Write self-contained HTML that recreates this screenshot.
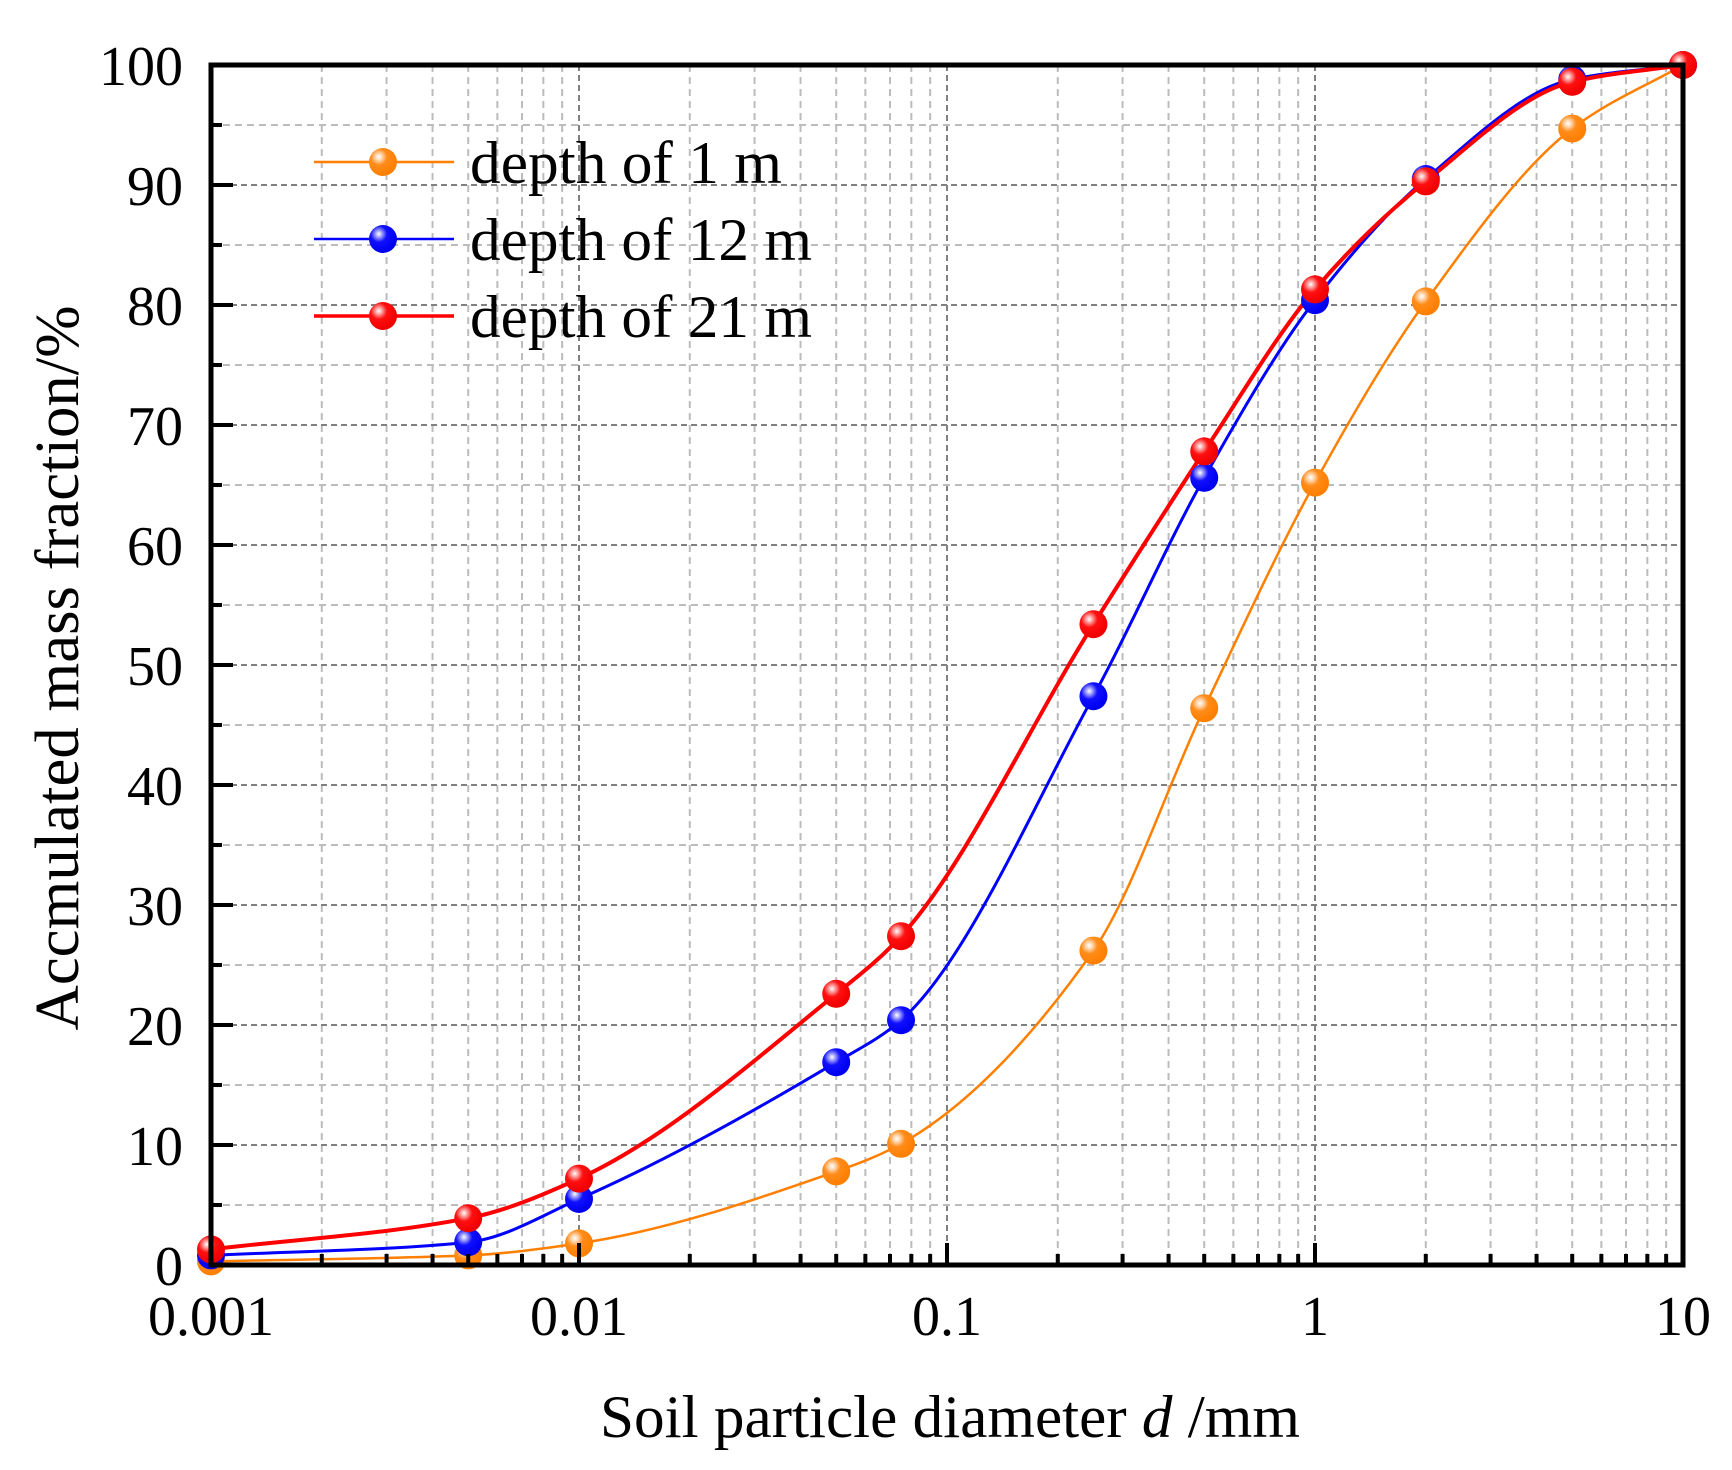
<!DOCTYPE html>
<html><head><meta charset="utf-8"><style>
html,body{margin:0;padding:0;background:#fff;}
svg{display:block;}
text{font-family:"Liberation Serif","Times New Roman",serif;fill:#000;}
</style></head><body>
<svg id="s" width="1732" height="1470" viewBox="0 0 1732 1470" xmlns="http://www.w3.org/2000/svg">
<defs>
<radialGradient id="gO" cx="0.35" cy="0.32" r="0.65"><stop offset="0" stop-color="#fff"/><stop offset="0.18" stop-color="#ffd7b0"/><stop offset="0.45" stop-color="#ff8c1a"/><stop offset="1" stop-color="#ff7f00"/></radialGradient>
<radialGradient id="gB" cx="0.35" cy="0.32" r="0.65"><stop offset="0" stop-color="#fff"/><stop offset="0.18" stop-color="#a0a0ff"/><stop offset="0.45" stop-color="#1010ff"/><stop offset="1" stop-color="#0000f0"/></radialGradient>
<radialGradient id="gR" cx="0.35" cy="0.32" r="0.65"><stop offset="0" stop-color="#fff"/><stop offset="0.18" stop-color="#ffa0a0"/><stop offset="0.45" stop-color="#ff1010"/><stop offset="1" stop-color="#f00000"/></radialGradient>
<clipPath id="cp"><rect x="150" y="40" width="1560" height="1250"/></clipPath>
</defs>
<g id="grid"></g>
<g id="curves" clip-path="url(#cp)"></g>
<rect x="211" y="65" width="1472" height="1200" fill="none" stroke="#000" stroke-width="5"/>
<g id="ticks"></g>
<g id="labels" font-size="56"></g>
<g id="legend">
<line x1="314" y1="162" x2="454" y2="162" stroke="#ff7f00" stroke-width="2.5"/>
<circle cx="383" cy="162" r="14" fill="url(#gO)"/>
<text x="470" y="183" font-size="60" textLength="312" lengthAdjust="spacingAndGlyphs">depth of 1 m</text>
<line x1="314" y1="239" x2="454" y2="239" stroke="#0000ff" stroke-width="2.5"/>
<circle cx="383" cy="239" r="14" fill="url(#gB)"/>
<text x="470" y="260" font-size="60" textLength="342" lengthAdjust="spacingAndGlyphs">depth of 12 m</text>
<line x1="314" y1="316" x2="454" y2="316" stroke="#ff0000" stroke-width="3.5"/>
<circle cx="383" cy="316" r="14" fill="url(#gR)"/>
<text x="470" y="337" font-size="60" textLength="342" lengthAdjust="spacingAndGlyphs">depth of 21 m</text>
</g>
<text x="950" y="1437" font-size="60" text-anchor="middle" textLength="700" lengthAdjust="spacingAndGlyphs">Soil particle diameter <tspan font-style="italic">d</tspan> /mm</text>
<text transform="translate(78,668) rotate(-90)" font-size="62" text-anchor="middle" textLength="725" lengthAdjust="spacingAndGlyphs">Accmulated mass fraction/%</text>
</svg>
<script>
var NS="http://www.w3.org/2000/svg";
function X(v){return 211+368*(Math.log10(v)+3);}
function Y(p){return 1265-12*p;}
function el(par,tag,a,txt){var e=document.createElementNS(NS,tag);for(var k in a)e.setAttribute(k,a[k]);if(txt!==undefined)e.textContent=txt;document.getElementById(par).appendChild(e);return e;}
for(var d=-3;d<1;d++){for(var m=1;m<10;m++){var v=m*Math.pow(10,d);var x=X(v);
 if(m==1){if(d>-3)el("grid","line",{x1:x,y1:65,x2:x,y2:1265,stroke:"#808080","stroke-width":2,"stroke-dasharray":"6 4"});}
 else el("grid","line",{x1:x,y1:65,x2:x,y2:1265,stroke:"#bcbcbc","stroke-width":2,"stroke-dasharray":"7 5"});
 el("ticks","line",{x1:x,y1:1265,x2:x,y2:m==1?1243:1254,stroke:"#000","stroke-width":4});
}}
for(var p=5;p<100;p+=5){var y=Y(p);
 if(p%10==0)el("grid","line",{x1:211,y1:y,x2:1683,y2:y,stroke:"#808080","stroke-width":2,"stroke-dasharray":"6 4"});
 else el("grid","line",{x1:211,y1:y,x2:1683,y2:y,stroke:"#bcbcbc","stroke-width":2,"stroke-dasharray":"7 5"});
 el("ticks","line",{x1:211,y1:y,x2:p%10==0?233:222,y2:y,stroke:"#000","stroke-width":4});
}
for(var p=0;p<=100;p+=10)el("labels","text",{x:183,y:Y(p)+20,"text-anchor":"end"},String(p));
var xl=[["0.001",0.001],["0.01",0.01],["0.1",0.1],["1",1],["10",10]];
xl.forEach(function(a){el("labels","text",{x:X(a[1]),y:1335,"text-anchor":"middle"},a[0]);});
var xs=[0.001,0.005,0.01,0.05,0.075,0.25,0.5,1,2,5,10];
var S=[
 {c:"#ff7f00",g:"gO",w:2.5,d:[0.3,0.8,1.8,7.8,10.1,26.2,46.4,65.2,80.3,94.7,100]},
 {c:"#0000ff",g:"gB",w:3,d:[0.8,1.9,5.5,16.9,20.4,47.4,65.6,80.4,90.5,98.8,100]},
 {c:"#ff0000",g:"gR",w:4,d:[1.3,3.9,7.2,22.6,27.4,53.4,67.8,81.3,90.3,98.6,100]}];
function mono(xv,yv){
 var n=xv.length,dl=[],m=[];
 for(var i=0;i<n-1;i++)dl.push((yv[i+1]-yv[i])/(xv[i+1]-xv[i]));
 m[0]=dl[0];m[n-1]=dl[n-2];
 for(var i=1;i<n-1;i++){
  if(dl[i-1]*dl[i]<=0)m[i]=0;
  else{var h0=xv[i]-xv[i-1],h1=xv[i+1]-xv[i];var w1=2*h1+h0,w2=h1+2*h0;m[i]=(w1+w2)/(w1/dl[i-1]+w2/dl[i]);}
 }
 return m;
}
S.forEach(function(s){
 var P=xs.map(function(v,i){return [X(v),Y(s.d[i])];});
 var xv=P.map(function(p){return p[0];}),yv=P.map(function(p){return p[1];});
 var m=mono(xv,yv);
 var dstr="M"+xv[0]+","+yv[0];
 for(var i=0;i<P.length-1;i++){
  var h=xv[i+1]-xv[i];
  dstr+=" C"+(xv[i]+h/3)+","+(yv[i]+m[i]*h/3)+" "+(xv[i+1]-h/3)+","+(yv[i+1]-m[i+1]*h/3)+" "+xv[i+1]+","+yv[i+1];
 }
 el("curves","path",{d:dstr,fill:"none",stroke:s.c,"stroke-width":s.w});
 s.P=P;
});
S.forEach(function(s){s.P.forEach(function(p){el("curves","circle",{cx:p[0],cy:p[1],r:14,fill:"url(#"+s.g+")"});});});
</script>
</body></html>
